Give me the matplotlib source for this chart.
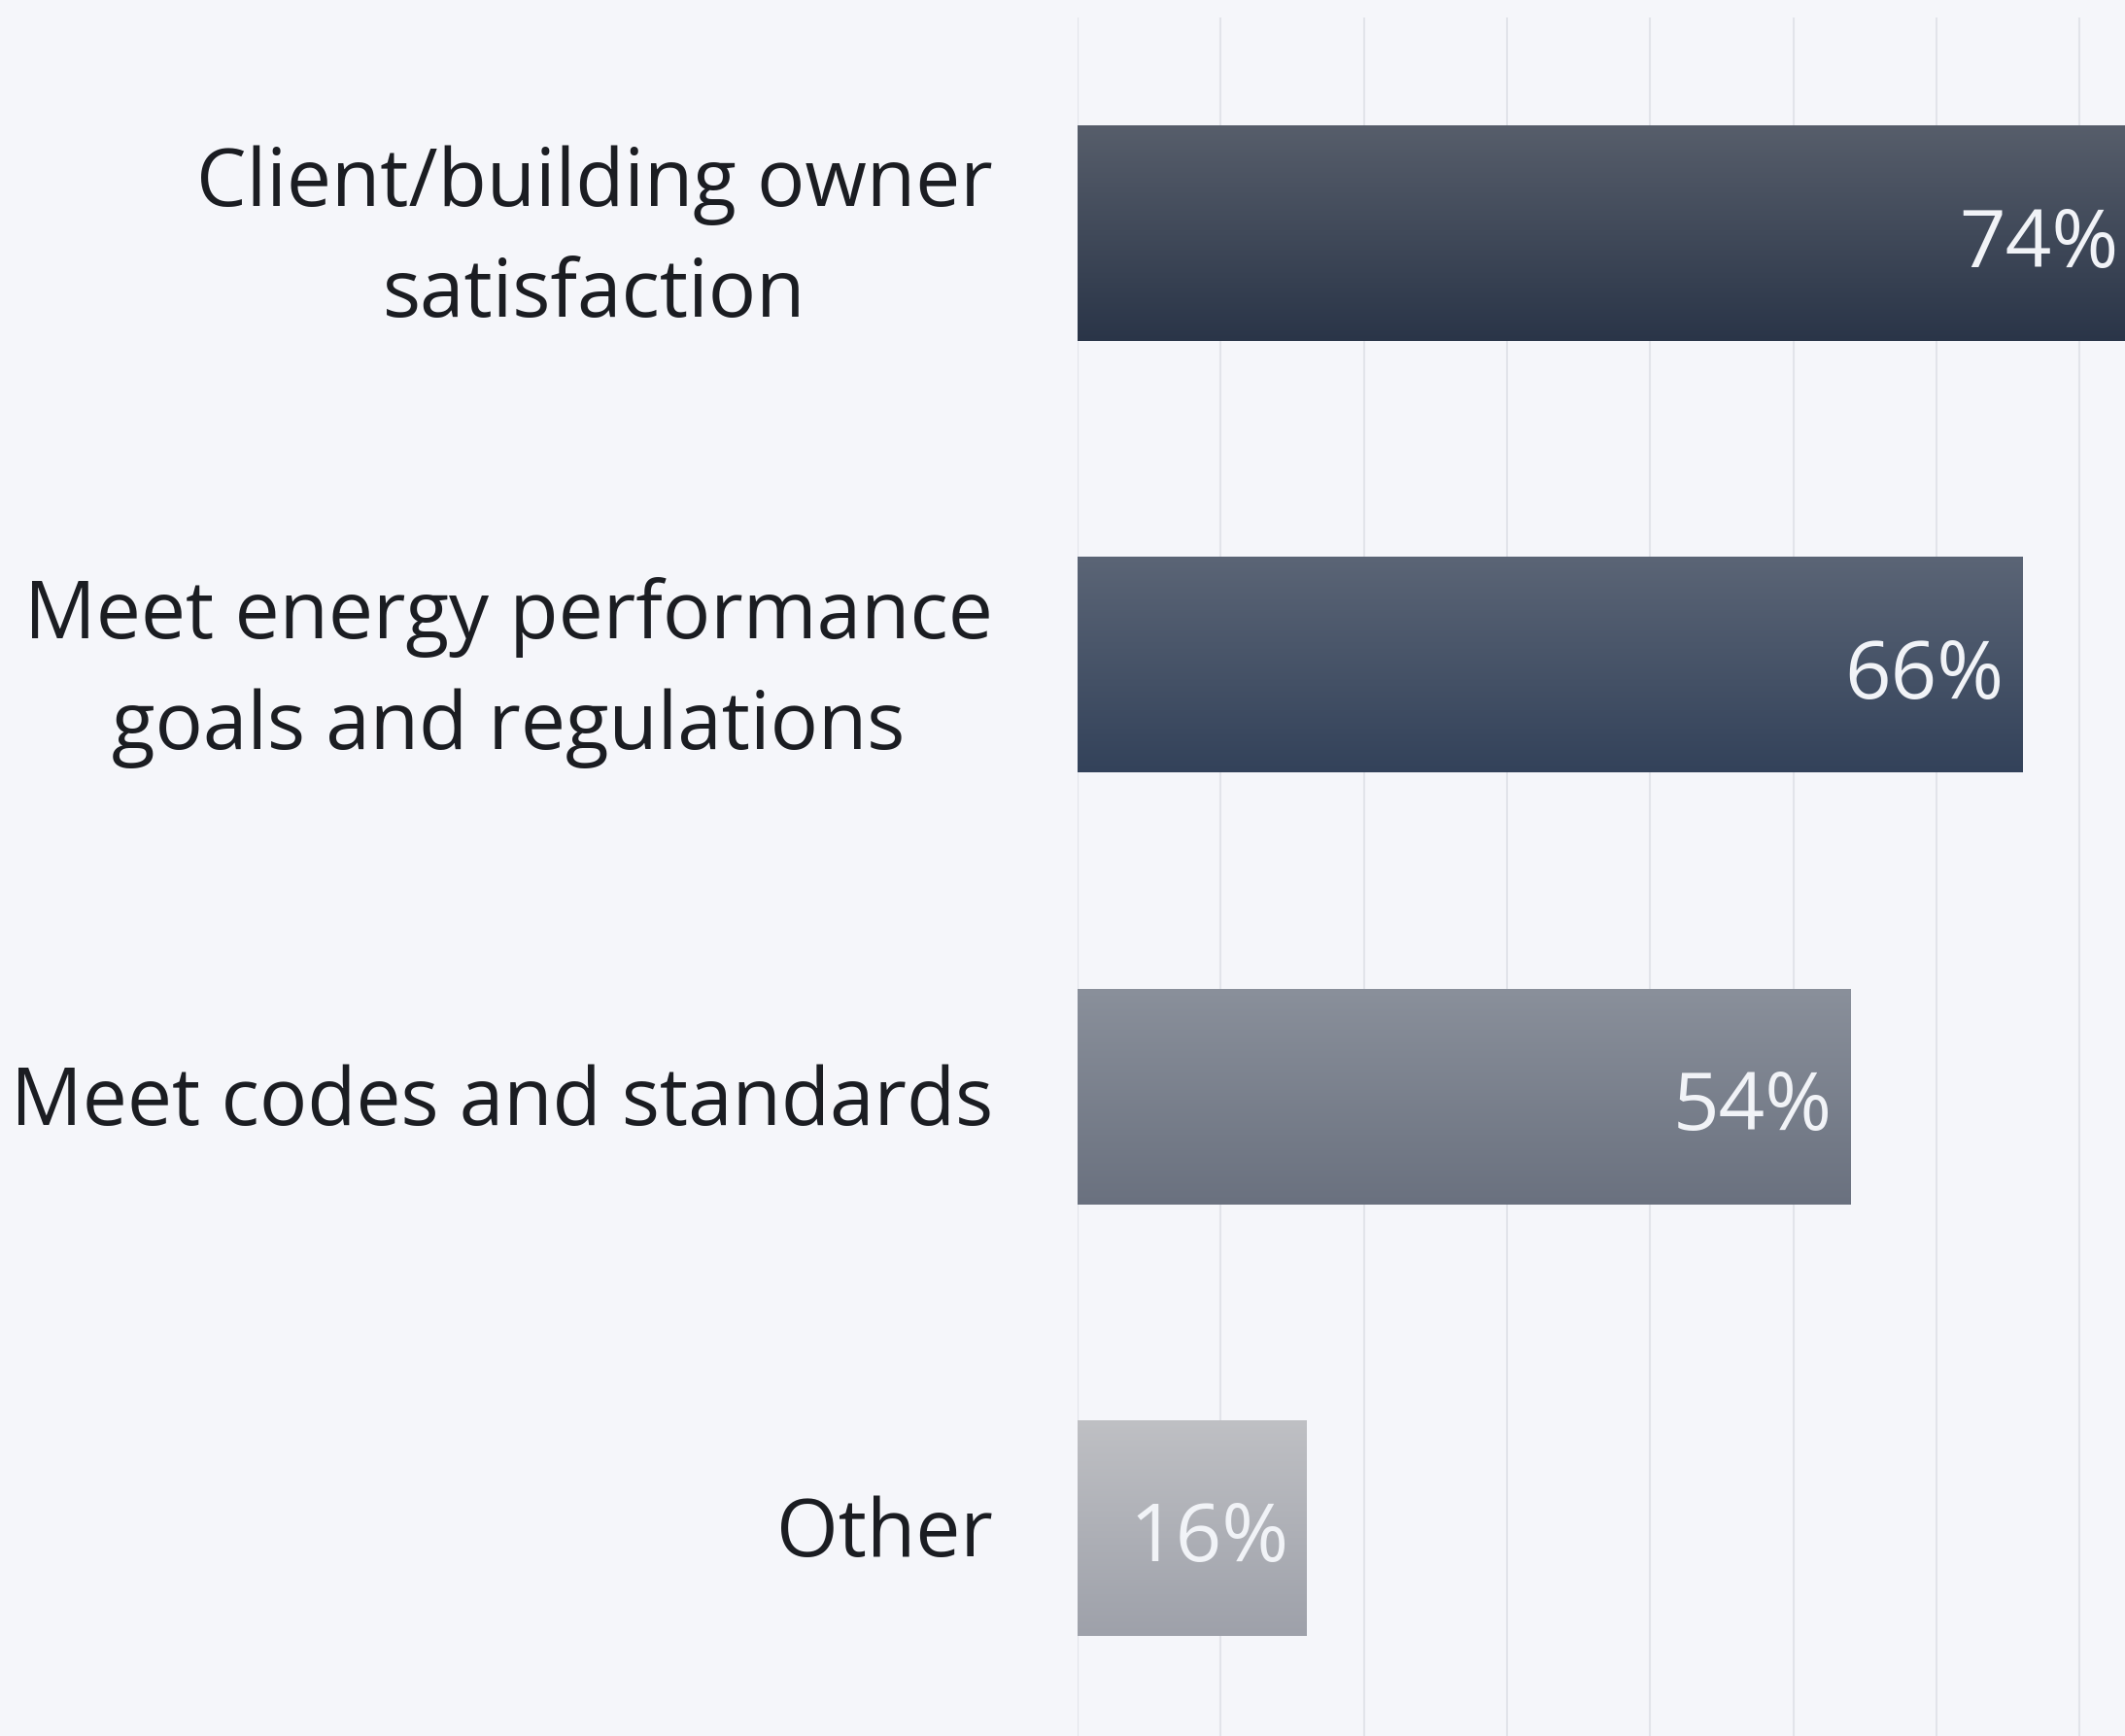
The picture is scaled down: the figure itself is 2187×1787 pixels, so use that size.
import numpy as np
import matplotlib
matplotlib.use("Agg")
import matplotlib.pyplot as plt
import matplotlib.transforms as mtransforms
from matplotlib.colors import LinearSegmentedColormap

categories = ["Client/building owner\nsatisfaction",
              "Meet energy performance\ngoals and regulations",
              "Meet codes and standards",
              "Other"]
values = [74, 66, 54, 16]
value_labels = ["74%", "66%", "54%", "16%"]
grad_top = ["#575e6b", "#5b6576", "#8a909b", "#bfc0c4"]
grad_bot = ["#2a3548", "#33425a", "#6a717f", "#9ea1aa"]

W, H = 2187, 1787
dpi = 100
fig = plt.figure(figsize=(W / dpi, H / dpi), dpi=dpi)
bg = "#f5f6fa"
fig.patch.set_facecolor(bg)

x0 = 1109
px_per10 = 147.3
xmax = 80
ax_right = x0 + px_per10 * xmax / 10
ax_top, ax_bot = 18, 1795
ax = fig.add_axes([x0 / W, (H - ax_bot) / H, (ax_right - x0) / W, (ax_bot - ax_top) / H])
ax.set_facecolor(bg)

ypos = np.arange(len(categories))
bars = ax.barh(ypos, values, height=0.5, color=grad_bot, zorder=2)
for b, v, ct, cb in zip(bars, values, grad_top, grad_bot):
    cmap = LinearSegmentedColormap.from_list("g", [ct, cb])
    grad = np.linspace(0, 1, 256).reshape(-1, 1)
    y0 = b.get_y()
    h = b.get_height()
    im = ax.imshow(grad, cmap=cmap, aspect="auto",
                   extent=[0, v, y0 + h, y0], origin="upper", zorder=3)
    im.set_clip_path(b)

for y, v, lab in zip(ypos, values, value_labels):
    ax.text(v - 1.25, y + 0.03, lab, ha="right", va="center", color="#f1f3f7",
            fontsize=60, family="Open Sans", zorder=4)

ax.set_xlim(0, xmax)
ax.set_ylim(len(categories) - 0.5, -0.5)
ax.set_xticks(np.arange(0, xmax + 1, 10))
ax.xaxis.grid(True, color="#e2e4ea", linewidth=1.5, zorder=0)
ax.set_axisbelow(True)
ax.tick_params(axis="x", length=0, labelbottom=False)
ax.set_yticks(ypos)
ax.set_yticklabels([])
ax.tick_params(axis="y", length=0)

label_tr = mtransforms.blended_transform_factory(ax.transAxes, ax.transData) + \
    mtransforms.ScaledTranslation(-87 / dpi, 0, fig.dpi_scale_trans)
for y, cat in zip(ypos, categories):
    dy = -0.04 if "\n" in cat else -0.005
    ax.text(0, y + dy, cat, transform=label_tr, ha="right", va="center_baseline",
            fontsize=59, family="Open Sans", color="#1b1d22",
            multialignment="center", linespacing=1.5, clip_on=False)

for s in ax.spines.values():
    s.set_visible(False)

fig.savefig("out.png", dpi=dpi, facecolor=bg)
